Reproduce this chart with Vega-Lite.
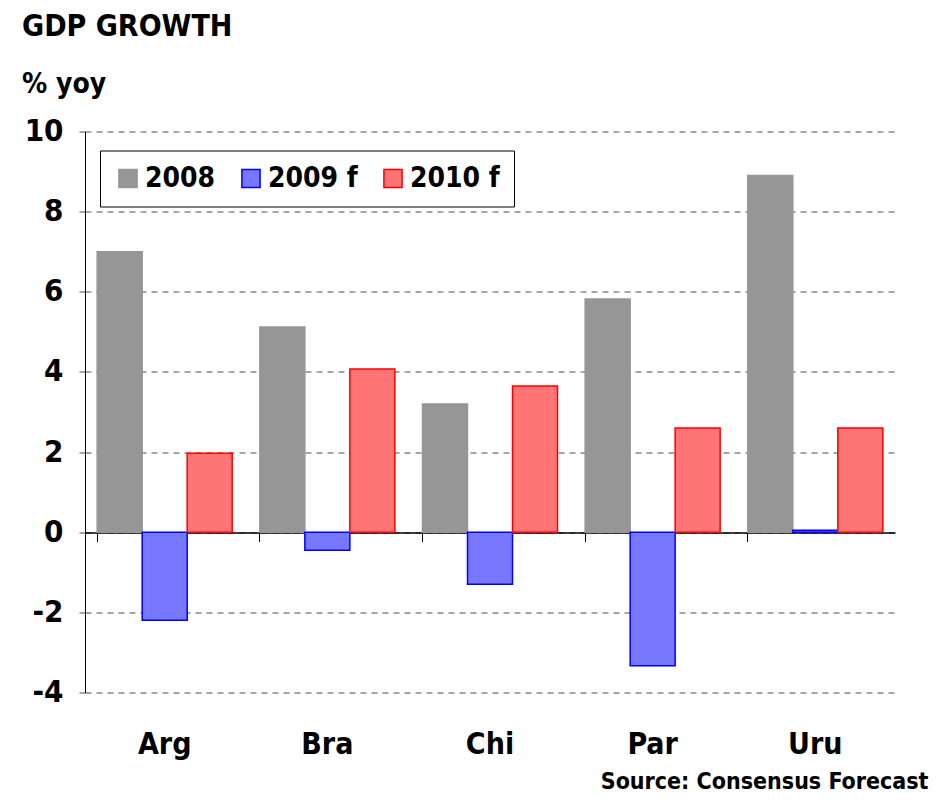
{
  "$schema": "https://vega.github.io/schema/vega-lite/v6.json",
  "width": 810,
  "height": 561,
  "autosize": {"type": "none"},
  "padding": {"left": 85, "top": 131.5, "right": 50, "bottom": 115.5},
  "background": "white",
  "config": {
    "font": "DejaVu Sans Condensed",
    "view": {"stroke": null},
    "axis": {"labelFont": "DejaVu Sans Condensed", "labelFontWeight": "bold", "labelColor": "black", "titleFont": "DejaVu Sans Condensed"},
    "legend": {"labelFont": "DejaVu Sans Condensed"}
  },
  "title": {
    "text": "GDP GROWTH",
    "subtitle": "% yoy",
    "anchor": "start",
    "frame": "group",
    "orient": "top",
    "dx": -63,
    "offset": 17,
    "font": "DejaVu Sans Condensed",
    "fontSize": 30,
    "fontWeight": "bold",
    "color": "black",
    "subtitleFont": "DejaVu Sans Condensed",
    "subtitleFontSize": 28,
    "subtitleFontWeight": "bold",
    "subtitleColor": "black",
    "subtitlePadding": 29
  },
  "data": {
    "values": [
      {"country": "Arg", "year": "2008", "value": 7.0},
      {"country": "Arg", "year": "2009 f", "value": -2.2},
      {"country": "Arg", "year": "2010 f", "value": 1.97},
      {"country": "Bra", "year": "2008", "value": 5.12},
      {"country": "Bra", "year": "2009 f", "value": -0.45},
      {"country": "Bra", "year": "2010 f", "value": 4.07},
      {"country": "Chi", "year": "2008", "value": 3.2},
      {"country": "Chi", "year": "2009 f", "value": -1.3},
      {"country": "Chi", "year": "2010 f", "value": 3.65},
      {"country": "Par", "year": "2008", "value": 5.82},
      {"country": "Par", "year": "2009 f", "value": -3.33},
      {"country": "Par", "year": "2010 f", "value": 2.6},
      {"country": "Uru", "year": "2008", "value": 8.9},
      {"country": "Uru", "year": "2009 f", "value": 0.05},
      {"country": "Uru", "year": "2010 f", "value": 2.6}
    ]
  },
  "resolve": {"axis": {"x": "independent"}},
  "layer": [
    {
      "mark": {"type": "bar", "strokeWidth": 1.5},
      "encoding": {
        "x": {
          "field": "country",
          "type": "nominal",
          "sort": ["Arg", "Bra", "Chi", "Par", "Uru"],
          "scale": {"paddingInner": 0.17, "paddingOuter": 0.075},
          "axis": {
            "orient": "bottom",
            "domain": false,
            "ticks": false,
            "grid": false,
            "labelAngle": 0,
            "labelFontSize": 30,
            "labelPadding": 37,
            "title": "Source: Consensus Forecast",
            "titleFontSize": 23,
            "titleFontWeight": "bold",
            "titleColor": "black",
            "titleAnchor": "end",
            "titleAlign": "right",
            "titleBaseline": "alphabetic",
            "titleX": 843,
            "titleY": 96
          }
        },
        "xOffset": {"field": "year", "type": "nominal", "scale": {"paddingInner": 0}},
        "y": {
          "field": "value",
          "type": "quantitative",
          "scale": {"domain": [-4, 10], "nice": false, "zero": false},
          "axis": {
            "values": [-4, -2, 0, 2, 4, 6, 8, 10],
            "labelExpr": "datum.value < 0 ? '-' + abs(datum.value) : datum.label",
            "title": null,
            "domain": true,
            "domainColor": "black",
            "domainWidth": 1,
            "ticks": true,
            "tickSize": 8,
            "tickColor": "#4d4d4d",
            "tickDash": [6, 5],
            "labelFontSize": 31,
            "labelPadding": 14,
            "grid": true,
            "gridColor": "#4d4d4d",
            "gridDash": [6, 5],
            "gridWidth": 1
          }
        },
        "fill": {
          "field": "year",
          "type": "nominal",
          "scale": {"domain": ["2008", "2009 f", "2010 f"], "range": ["#969696", "#7878ff", "#ff7474"]},
          "legend": {
            "title": null,
            "orient": "none",
            "legendX": 15,
            "legendY": 19,
            "direction": "horizontal",
            "fillColor": "white",
            "strokeColor": "black",
            "padding": 14,
            "symbolType": "square",
            "symbolSize": 330,
            "symbolStrokeWidth": 1.5,
            "labelFontSize": 28,
            "labelFontWeight": "bold",
            "labelColor": "black",
            "labelOffset": 3,
            "columnPadding": 21
          }
        },
        "stroke": {
          "field": "year",
          "type": "nominal",
          "scale": {"domain": ["2008", "2009 f", "2010 f"], "range": ["#969696", "#0000ff", "#ff0000"]},
          "legend": {
            "title": null,
            "orient": "none",
            "legendX": 15,
            "legendY": 19,
            "direction": "horizontal",
            "fillColor": "white",
            "strokeColor": "black",
            "padding": 14,
            "symbolType": "square",
            "symbolSize": 330,
            "symbolStrokeWidth": 1.5,
            "labelFontSize": 28,
            "labelFontWeight": "bold",
            "labelColor": "black",
            "labelOffset": 3,
            "columnPadding": 21
          }
        }
      }
    },
    {
      "mark": {"type": "bar", "opacity": 0},
      "encoding": {
        "x": {
          "field": "country",
          "type": "nominal",
          "sort": ["Arg", "Bra", "Chi", "Par", "Uru"],
          "axis": {
            "orient": "bottom",
            "offset": -160,
            "domain": true,
            "domainColor": "black",
            "domainWidth": 1.5,
            "ticks": true,
            "tickColor": "black",
            "tickSize": 9,
            "bandPosition": 0,
            "labels": false,
            "grid": false,
            "title": null
          }
        },
        "y": {"datum": 0, "type": "quantitative"}
      }
    }
  ]
}
